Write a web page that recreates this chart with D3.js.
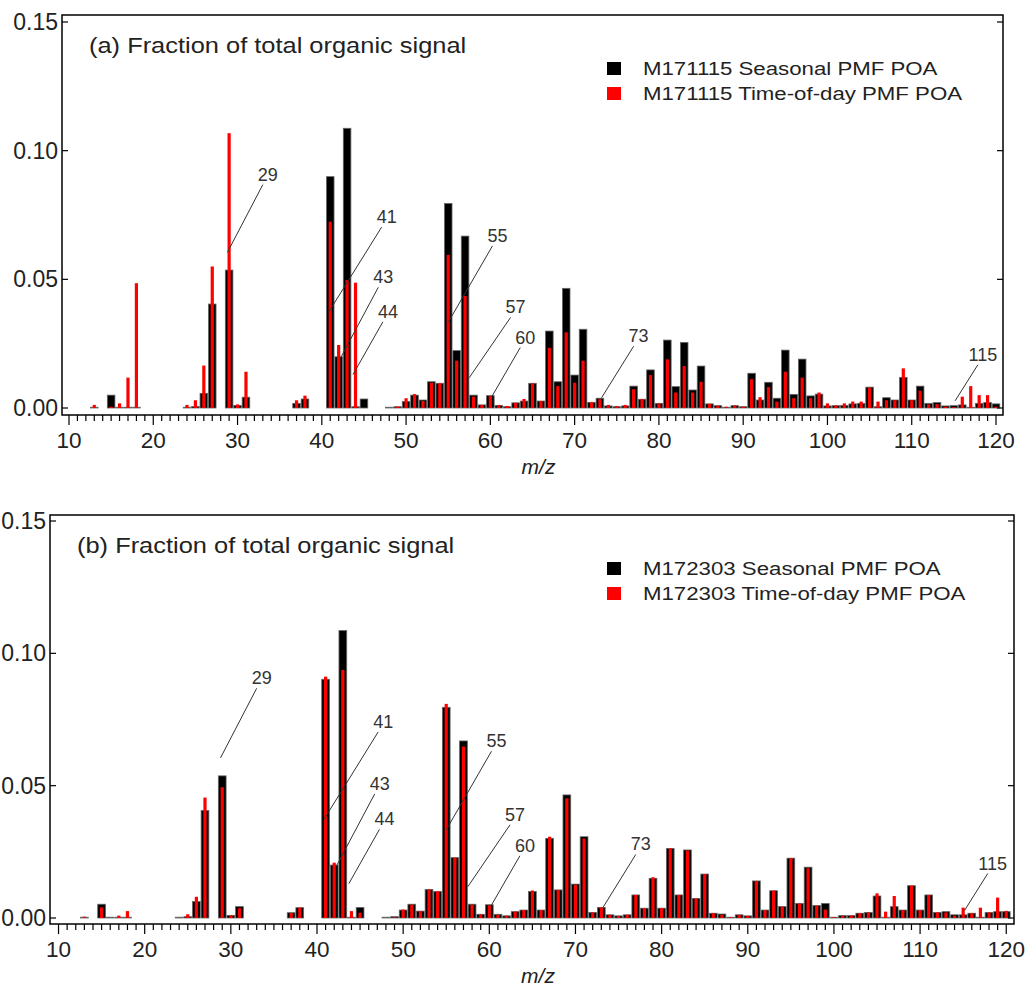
<!DOCTYPE html>
<html lang="en">
<head>
<meta charset="UTF-8">
<title>PMF POA mass spectra</title>
<script src="https://d3js.org/d3.v7.min.js"></script>
<style>
  body { margin: 0; background: #fff; }
  svg { display: block; font-family: "Liberation Sans", Arial, sans-serif; }
</style>
</head>
<body>
<script>
// m/z from 12 to 120
const mz = d3.range(12, 121);

// panel (a) M171115
const seasonalA = [
  0, 0.0003, 0, 0.005, 0.0003, 0.0003, 0.0003, 0, 0, 0, 0, 0, 0.0003, 0.0006, 0.0057, 0.0404, 0, 0.0536, 0.001, 0.0042,
  0, 0, 0, 0, 0, 0.0018, 0.0035, 0, 0, 0.0899, 0.0199, 0.1087, 0.0005, 0.0035, 0, 0, 0.0003, 0.0005, 0.0025, 0.005,
  0.0031, 0.0102, 0.0096, 0.0795, 0.0223, 0.0668, 0.005, 0.0012, 0.0048, 0.001, 0.0005, 0.002, 0.0027, 0.0096, 0.0027, 0.0299, 0.0102, 0.0465, 0.0128, 0.0306,
  0.0022, 0.0038, 0.0008, 0.0005, 0.0008, 0.0085, 0.0034, 0.0148, 0.0018, 0.0264, 0.0083, 0.0255, 0.007, 0.0163, 0.0016, 0.0009, 0.0003, 0.0009, 0.0005, 0.0135,
  0.0031, 0.01, 0.0038, 0.0225, 0.0053, 0.019, 0.0047, 0.0054, 0.0008, 0.0009, 0.001, 0.0016, 0.0018, 0.0081, 0.0005, 0.004, 0.0031, 0.0119, 0.0031, 0.0085,
  0.0018, 0.0021, 0.0008, 0.0009, 0.0012, 0.0003, 0.0018, 0.0021, 0.0016
];
const timeOfDayA = [
  0, 0.0012, 0, 0.0005, 0.0018, 0.0118, 0.0485, 0, 0, 0, 0, 0, 0.0012, 0.003, 0.0165, 0.055, 0, 0.1068, 0.0014, 0.0141,
  0, 0, 0, 0, 0, 0.003, 0.0048, 0, 0, 0.0724, 0.0245, 0.0497, 0.0487, 0, 0, 0, 0, 0.0005, 0.0038, 0.0054,
  0.0027, 0.0098, 0.0096, 0.0595, 0.0184, 0.0435, 0.0044, 0.0012, 0.0047, 0.0012, 0.0008, 0.002, 0.0035, 0.0096, 0.0027, 0.0234, 0.0085, 0.0294, 0.0098, 0.0184,
  0.0022, 0.0034, 0.0012, 0.0008, 0.0012, 0.0073, 0.0035, 0.0128, 0.0018, 0.0189, 0.006, 0.0163, 0.006, 0.0102, 0.0016, 0.0009, 0.0005, 0.001, 0.0005, 0.0112,
  0.0042, 0.0081, 0.0025, 0.0141, 0.0038, 0.0118, 0.0038, 0.006, 0.0018, 0.001, 0.0018, 0.0025, 0.0025, 0.0079, 0.0025, 0.003, 0.003, 0.0154, 0.003, 0.0067,
  0.0014, 0.0015, 0.0005, 0.0003, 0.0044, 0.0085, 0.005, 0.005, 0.0005
];

// panel (b) M172303
const seasonalB = [
  0, 0.0003, 0, 0.0052, 0.0003, 0.0003, 0.0003, 0, 0, 0, 0, 0, 0.0003, 0.0005, 0.0062, 0.0406, 0, 0.0537, 0.001, 0.0043,
  0, 0, 0, 0, 0, 0.002, 0.0039, 0, 0, 0.0902, 0.02, 0.1086, 0.0003, 0.004, 0, 0, 0.0003, 0.0005, 0.003, 0.0052,
  0.0026, 0.0108, 0.01, 0.0796, 0.0228, 0.0669, 0.0052, 0.0014, 0.005, 0.0014, 0.0008, 0.0024, 0.003, 0.01, 0.003, 0.0301, 0.0106, 0.0465, 0.0128, 0.0307,
  0.0021, 0.004, 0.0012, 0.0008, 0.0012, 0.0087, 0.0037, 0.015, 0.0037, 0.0263, 0.0087, 0.0257, 0.0074, 0.0166, 0.0018, 0.0015, 0.0003, 0.0012, 0.0008, 0.014,
  0.003, 0.0103, 0.0043, 0.0226, 0.0055, 0.0192, 0.0047, 0.0055, 0.0003, 0.0009, 0.0009, 0.0018, 0.0021, 0.0083, 0.0003, 0.0043, 0.003, 0.0122, 0.003, 0.0087,
  0.0021, 0.0024, 0.0012, 0.0012, 0.0018, 0.0003, 0.0021, 0.0024, 0.0024
];
const timeOfDayB = [
  0, 0.0005, 0, 0.004, 0, 0.0009, 0.0026, 0, 0, 0, 0, 0, 0, 0.0014, 0.008, 0.0455, 0, 0.0494, 0.001, 0.0037,
  0, 0, 0, 0, 0, 0.0019, 0.0039, 0, 0, 0.0912, 0.0209, 0.0937, 0.0026, 0.002, 0, 0, 0, 0.0003, 0.0032, 0.005,
  0.0026, 0.0108, 0.0101, 0.0809, 0.0228, 0.0648, 0.005, 0.0014, 0.0048, 0.0012, 0.0009, 0.0024, 0.003, 0.0104, 0.003, 0.0307, 0.0106, 0.0452, 0.0125, 0.03,
  0.0021, 0.004, 0.0012, 0.0008, 0.0012, 0.0087, 0.0037, 0.0154, 0.0037, 0.0263, 0.0087, 0.0255, 0.0074, 0.0166, 0.0018, 0.0012, 0.0003, 0.0012, 0.0008, 0.014,
  0.003, 0.0103, 0.0043, 0.0226, 0.0055, 0.0188, 0.0047, 0.0032, 0.0003, 0.0009, 0.0009, 0.0018, 0.0021, 0.0093, 0.0024, 0.0083, 0.003, 0.0122, 0.003, 0.0087,
  0.0021, 0.0021, 0.0009, 0.0039, 0.0018, 0.0039, 0.0021, 0.0077, 0.0027
];

const yTicks = [0, 0.05, 0.10, 0.15];
const xTicks = [10, 20, 30, 40, 50, 60, 70, 80, 90, 100, 110, 120];

// labelled peaks: [label, bar end m/z, bar end value, label end m/z, label end value]
const peakLabels = [
  ["29", 28.8, 0.0605, 33.0, 0.0868],
  ["41", 40.8, 0.0372, 47.1, 0.0703],
  ["43", 42.25, 0.0196, 46.7, 0.0469],
  ["44", 43.7, 0.013, 47.25, 0.0335],
  ["55", 55.0, 0.0333, 60.25, 0.063],
  ["57", 57.5, 0.0118, 62.4, 0.0352],
  ["60", 60.2, 0.0046, 63.55, 0.0235],
  ["73", 73.2, 0.004, 77.0, 0.024],
  ["115", 115.15, 0.0028, 117.85, 0.0168]
];

const panels = [
  { tag: "(a)", id: "M171115", black: seasonalA, red: timeOfDayA,
    left: 62, right: 1003, top: 15, bottom: 415, xDom: [9.17, 120.83], yDom: [-0.00272, 0.15272] },
  { tag: "(b)", id: "M172303", black: seasonalB, red: timeOfDayB,
    left: 50, right: 1014, top: 515, bottom: 924, xDom: [9.01, 120.9], yDom: [-0.00227, 0.15227] }
];

const svg = d3.select("body").append("svg")
  .attr("width", 1030)
  .attr("height", 988);

panels.forEach(p => {
  const x = d3.scaleLinear().domain(p.xDom).range([p.left, p.right]);
  const y = d3.scaleLinear().domain(p.yDom).range([p.bottom, p.top]);
  const unit = x(11) - x(10);
  const g = svg.append("g");

  // black bars (seasonal)
  g.selectAll(".blk").data(mz).enter().append("rect")
    .attr("x", (d, i) => x(d) - unit * 0.45)
    .attr("width", unit * 0.9)
    .attr("y", (d, i) => y(p.black[i]))
    .attr("height", (d, i) => y(0) - y(p.black[i]))
    .attr("fill", (d, i) => p.black[i] > 0 ? "#000" : "none")
    .attr("stroke", (d, i) => p.black[i] > 0 ? "#666" : "none")
    .attr("stroke-width", 0.8);

  // red bars (time-of-day)
  g.selectAll(".red").data(mz).enter().append("rect")
    .attr("x", d => x(d) - 1.6)
    .attr("width", 3.2)
    .attr("y", (d, i) => y(p.red[i]))
    .attr("height", (d, i) => y(0) - y(p.red[i]))
    .attr("fill", "#ff0000");

  // frame
  g.append("rect")
    .attr("x", p.left).attr("y", p.top)
    .attr("width", p.right - p.left).attr("height", p.bottom - p.top)
    .attr("fill", "none").attr("stroke", "#000").attr("stroke-width", 1.5);

  // x axis ticks
  g.selectAll(".xt").data(d3.range(10, 121)).enter().append("line")
    .attr("x1", d => x(d)).attr("x2", d => x(d))
    .attr("y1", p.bottom).attr("y2", d => p.bottom + (d % 10 === 0 ? 10 : 6))
    .attr("stroke", "#000").attr("stroke-width", 1.2);
  g.selectAll(".xl").data(xTicks).enter().append("text")
    .attr("x", d => x(d)).attr("y", p.bottom + 33)
    .attr("text-anchor", "middle")
    .style("font-size", "22.5px").attr("fill", "#222")
    .text(d => d);
  g.append("text")
    .attr("x", (p.left + p.right) / 2 + 6).attr("y", p.bottom + 59)
    .attr("text-anchor", "middle")
    .style("font-size", "21px").style("font-style", "italic").attr("fill", "#222")
    .text("m/z");

  // y axis ticks (left and right, inside)
  yTicks.forEach(v => {
    g.append("line").attr("x1", p.left).attr("x2", p.left + 6)
      .attr("y1", y(v)).attr("y2", y(v)).attr("stroke", "#000").attr("stroke-width", 1.2);
    g.append("line").attr("x1", p.right - 6).attr("x2", p.right)
      .attr("y1", y(v)).attr("y2", y(v)).attr("stroke", "#000").attr("stroke-width", 1.2);
  });
  g.selectAll(".yl").data(yTicks).enter().append("text")
    .attr("x", p.left - 4).attr("y", d => y(d))
    .attr("dy", "0.35em").attr("text-anchor", "end")
    .style("font-size", "23px").attr("fill", "#222")
    .text(d => d3.format(".2f")(d));

  // title (source font is wider than Arial)
  g.append("text")
    .attr("transform", `translate(${p.left + 27},${p.top + 38}) scale(1.13,1)`)
    .style("font-size", "22.5px").attr("fill", "#222")
    .text(p.tag + " Fraction of total organic signal");

  // legend
  [["#000", " Seasonal PMF POA"], ["#ff0000", " Time-of-day PMF POA"]].forEach((e, i) => {
    g.append("rect")
      .attr("x", 607).attr("y", p.top + 47 + i * 25)
      .attr("width", 14).attr("height", 13)
      .attr("fill", e[0]);
    g.append("text")
      .attr("transform", `translate(643,${p.top + 60 + i * 25}) scale(1.27,1)`)
      .style("font-size", "17.5px").attr("fill", "#222")
      .text(p.id + e[1]);
  });

  // peak labels
  peakLabels.forEach(a => {
    g.append("line")
      .attr("x1", x(a[1])).attr("y1", y(a[2]))
      .attr("x2", x(a[3])).attr("y2", y(a[4]))
      .attr("stroke", "#333").attr("stroke-width", 1);
    g.append("text")
      .attr("x", x(a[3]) + 5).attr("y", y(a[4]) - 4)
      .attr("text-anchor", "middle")
      .style("font-size", "18px").attr("fill", "#333")
      .text(a[0]);
  });
});
</script>
</body>
</html>
